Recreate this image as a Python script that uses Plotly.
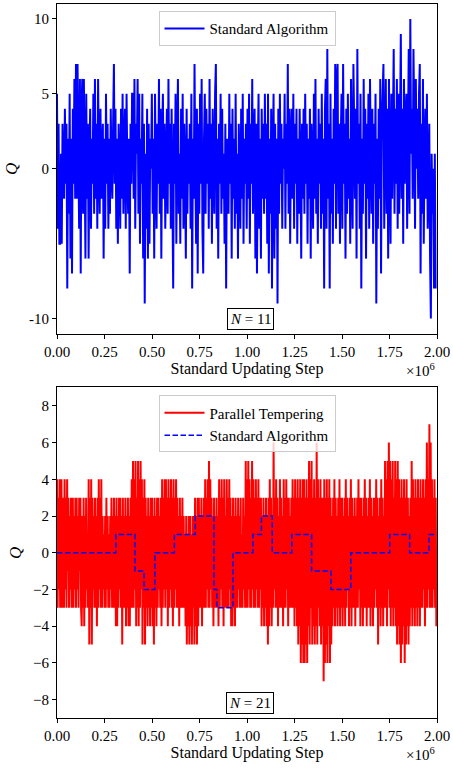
import plotly.graph_objects as go

# ---------------------------------------------------------------------------
# Topological charge Q versus Monte Carlo time
# ---------------------------------------------------------------------------

# N = 11, standard algorithm: one measurement every SA11_STRIDE updating steps
SA11_STRIDE = 4160
q11_standard = [
    5, -4, 3, -5, -5, 1, -5, 3, 0, -2, 4, -1, 3, -8, 2, -3, 5, -6, 2, -7, 4, -1, 6, -2,
    7, -2, 7, 1, -4, 6, -7, 4, 6, -3, 6, 0, -6, 5, -2, 3, -6, 1, 4, -4, 2, -1, 5, -3,
    6, -2, 3, -4, 6, 0, -3, 4, -2, 1, 3, -6, 2, -4, 5, -1, 3, -4, 2, -3, 4, 0, -2, 3,
    7, -1, 4, -4, 2, -5, 3, 0, -4, 4, -2, 5, -3, 1, 4, -4, 5, 0, -3, 2, -7, 3, -1, 5,
    5, -2, 6, -4, 3, 1, 6, -3, 5, -5, 2, -1, 5, -6, 3, -9, 1, -4, 4, -6, 3, -5, 2, 0,
    5, -3, 2, -6, 5, 0, -4, 3, -1, 6, -3, 4, -6, 2, 5, -2, 3, -4, 0, 4, -3, 6, -1, 3,
    -4, 4, -2, -8, 3, -1, 5, -5, 2, 6, -3, 1, -5, 4, -2, 5, -4, 3, 0, -6, 4, -3, 2, -1,
    3, -4, 5, -8, 2, -2, 7, 0, -5, 4, -7, 3, -3, 5, -1, 6, -4, -7, 2, 5, -3, 4, -1, 3,
    -4, 6, -2, 3, -5, 4, 0, -3, 5, 7, -4, 2, -6, 3, -1, 5, -3, 4, -2, 1, -5, 3, -8, 2,
    0, -3, 5, -1, 3, -6, 4, -2, 2, -4, 5, -3, 1, -6, 3, 0, -4, 4, -2, 5, -5, 2, -1, 3,
    -4, 4, -2, 5, -5, 3, -1, 6, -3, 2, 4, -6, 3, -7, 1, 5, -4, 2, -6, 4, -2, 3, -3, 5,
    -2, 3, -5, 5, -7, 2, -3, 4, -8, 1, 5, -6, 3, -4, 2, -9, 4, -3, 5, -1, 3, -4, 2, 0,
    5, -4, 3, -1, 7, -3, 4, -5, 2, 4, -2, 5, -4, 3, -1, 4, -5, 2, -3, 4, 0, -6, 3, -2,
    4, -3, 5, -1, 3, -5, 2, -2, 4, -6, 3, 0, -4, 5, -2, 6, -3, 2, -5, 4, -1, 3, -4, 5,
    -3, 2, -8, 4, 6, -4, 8, -2, 3, -8, 5, -3, 2, -5, 4, -1, 7, -4, 6, 7, -3, 3, -5, 2,
    5, -4, 7, -1, 3, -6, 4, -3, 5, -2, 2, -5, 6, 0, -4, 7, 3, -2, 4, -6, 8, -1, 3, -4,
    5, -8, 2, -3, 6, -1, 4, -6, 3, -2, 5, -4, 6, 1, -3, 4, -5, 3, -1, 5, -9, 2, -4, 4,
    -2, 6, -7, 3, 5, 7, -4, 2, 6, -3, 4, -6, 6, 0, -5, 5, -2, 3, 8, -3, 4, -1, 6, -4,
    5, -3, 3, 9, -2, 4, -5, 6, -1, 3, 5, -4, 2, 8, -3, 10, 1, 4, -2, 8, 3, -4, 6, 0,
    4, -2, 5, 7, -7, 3, -3, 6, -5, 1, 4, -2, 5, -4, -1, 3, -6, -10, 1, -3, 0, -8, 1, -8,
]

# N = 21, parallel tempering: one measurement every PT21_STRIDE updating steps
PT21_STRIDE = 10000 / 3
q21_tempering = [
    4, -3, 3, -2, 4, -3, 2, 4, -3, 1, 3, -3, 4, -2, 3, -3, 4, -1, 3, -3, 2, -2, 3, -3, 1, 3, -3, 2, -2, 3,
    -3, 3, -2, 2, -3, 3, -1, 3, -3, -4, 2, -3, 3, -4, 2, -3, 3, -2, 1, -3, 4, -5, 3, -3, 4, -5, 3, -2, 2, -3,
    3, -3, 2, -4, 3, -3, 4, -2, 3, -3, 4, -3, 2, -2, 1, -3, 2, -3, 3, -2, 2, -3, 1, -3, 2, -2, 3, -3, 2, -3,
    3, -3, 2, -4, 3, -4, 2, -3, 3, -2, 3, -3, 2, -5, 3, -3, 2, -3, 3, -4, 2, -3, 3, -4, 2, -4, 3, -3, 4, -3,
    5, -3, 4, -2, 5, -4, 3, -3, 5, -4, 4, -3, 5, -2, 4, -5, 3, -3, 4, -5, 3, -3, 2, -4, 3, -3, 2, -4, 3, -3,
    3, -4, 2, -5, 3, -3, 2, -4, 3, -3, 3, -2, 2, -3, 3, -4, 4, -3, 3, -2, 4, -3, 4, -2, 3, -4, 4, -3, 3, -2,
    4, -3, 3, -4, 4, -3, 3, -2, 4, -3, 3, -3, 2, -4, 3, -3, 2, -3, 3, -3, 2, -3, 1, -4, 2, -5, 1, -4, 2, -5,
    2, -4, 1, -5, 2, -3, 2, -5, 3, -4, 2, -5, 3, -4, 3, -3, 2, -3, 3, -4, 2, -3, 3, -3, 4, -3, 3, -2, 4, -3,
    5, -3, 4, -2, 3, -3, 2, -4, 3, -3, 2, -3, 3, -3, 2, -4, 4, -3, 3, -2, 4, -3, 3, -4, 4, -3, 2, -3, 4, -3,
    3, -3, 4, -2, 3, -4, 2, -4, 3, -3, 2, -4, 3, -3, 2, -3, 3, -2, 2, -3, 3, -3, 1, -3, 3, -2, 2, -3, 5, -3,
    4, -3, 5, -2, 4, -3, 3, -3, 5, -2, 4, -3, 3, -3, 4, -2, 3, -3, 4, -3, 3, -2, 3, -4, 2, -3, 3, -4, 2, -3,
    3, -4, 2, -5, 3, -4, 4, -3, 3, -4, 2, -3, 6, -2, 3, -3, 4, -3, 3, -4, 2, -3, 4, -3, 3, -3, 2, -4, 4, -3,
    3, -3, 4, -2, 3, -4, 3, -3, 2, -3, 3, -3, 4, -3, 3, -4, 4, -3, 3, -4, 4, -5, 3, -4, 4, -6, 3, -5, 4, -6,
    4, -6, 3, -5, 4, -6, 3, -4, 5, -5, 4, -3, 5, -5, 3, -4, 4, -5, 3, -4, 6, -5, 4, -3, 3, -4, 4, -5, 3, -4,
    3, -7, 4, -6, 3, -5, 4, -6, 3, -4, 4, -6, 3, -5, 2, -4, 3, -3, 4, -4, 3, -3, 2, -4, 3, -3, 4, -4, 3, -3,
    3, -4, 2, -3, 3, -4, 4, -3, 3, -2, 2, -4, 3, -3, 4, -4, 3, -3, 2, -3, 3, -4, 2, -3, 3, -3, 4, -2, 3, -4,
    3, -3, 2, -4, 3, -3, 4, -3, 3, -4, 2, -3, 3, -3, 4, -4, 3, -3, 2, -4, 3, -3, 3, -2, 4, -3, 3, -5, 2, -3,
    3, -4, 4, -3, 3, -4, 2, -3, 5, -3, 4, -4, 5, -2, 6, -3, 5, -4, 4, -3, 5, -4, 3, -3, 5, -4, 4, -5, 5, -4,
    4, -5, 3, -6, 4, -5, 3, -4, 4, -6, 3, -5, 4, -4, 3, -5, 2, -4, 3, -3, 5, -4, 4, -3, 3, -4, 4, -3, 3, -4,
    4, -3, 3, -4, 4, -3, 3, -3, 4, -2, 3, -4, 4, -3, 6, -3, 4, -2, 7, -3, 6, -3, 4, -3, 3, -2, 4, -3, 3, -4,
]

# N = 21, standard algorithm: Q changes rarely, stored as (step, new value)
sa21_steps = [0, 310000, 411000, 458000, 515000, 618000, 728000, 826000, 841000,
              926000, 1031000, 1076000, 1133000, 1236000, 1340000, 1442000,
              1546000, 1751000, 1856000, 1958000, 1998000]
q21_standard = [0, 1, -1, -2, 0, 1, 2, -2, -3, 0, 1, 2, 0, 1, -1, -2, 0, 1, 0, 1, 1]

x_tick_vals = [0, 250000, 500000, 750000, 1000000, 1250000, 1500000, 1750000, 2000000]
x_tick_text = ["0.00", "0.25", "0.50", "0.75", "1.00", "1.25", "1.50", "1.75", "2.00"]
y1_tick_vals = [-10, 0, 5, 10]
y1_tick_text = ["-10", "0", "5", "10"]
y2_tick_vals = [-8, -6, -4, -2, 0, 2, 4, 6, 8]

steps11 = [i * SA11_STRIDE for i in range(len(q11_standard))]
steps21 = [i * PT21_STRIDE for i in range(len(q21_tempering))]

FONT = "Liberation Serif"

fig = go.Figure()
fig.add_trace(go.Scatter(
    x=steps11, y=q11_standard, mode="lines", name="Standard Algorithm",
    line=dict(color="#0000ff", width=2, simplify=False),
    xaxis="x", yaxis="y", legend="legend",
))
fig.add_trace(go.Scatter(
    x=steps21, y=q21_tempering, mode="lines", name="Parallel Tempering",
    line=dict(color="#ff0000", width=2, simplify=False),
    xaxis="x2", yaxis="y2", legend="legend2",
))
fig.add_trace(go.Scatter(
    x=sa21_steps, y=q21_standard, mode="lines", name="Standard Algorithm",
    line=dict(color="#0000ff", width=1.5, dash="5.5px,2.5px", shape="hv"),
    xaxis="x2", yaxis="y2", legend="legend2",
))

axis_style = dict(
    showline=True, linecolor="black", linewidth=1, mirror=True,
    ticks="outside", ticklen=4, tickwidth=1, tickcolor="black",
    showgrid=False, zeroline=False, ticklabeloverflow="allow",
    tickfont=dict(family=FONT, size=15, color="black"),
)
x_style = dict(axis_style, range=[0, 2000000], tickmode="array",
               tickvals=x_tick_vals, ticktext=x_tick_text,
               title=dict(text="Standard Updating Step",
                          font=dict(family=FONT, size=16, color="black"),
                          standoff=2))
y_title = dict(text="<i>Q</i>", font=dict(family=FONT, size=17, color="black"),
               standoff=7)

TOP = [0.5385, 1.0]
BOTTOM = [0.0, 0.4629]

legend_style = dict(
    x=0.5, xanchor="center", yanchor="top",
    bgcolor="rgba(255,255,255,0.8)", bordercolor="#cccccc", borderwidth=1,
    font=dict(family=FONT, size=15, color="black"),
    itemwidth=40, tracegroupgap=0,
)

fig.update_layout(
    width=453, height=768,
    margin=dict(l=57, r=13, t=3, b=50),
    paper_bgcolor="white", plot_bgcolor="white",
    font=dict(family=FONT, size=15, color="black"),
    xaxis=dict(x_style, domain=[0, 1], anchor="y"),
    yaxis=dict(axis_style, domain=TOP, anchor="x", range=[-11, 11],
               tickmode="array", tickvals=y1_tick_vals, ticktext=y1_tick_text,
               title=y_title),
    xaxis2=dict(x_style, domain=[0, 1], anchor="y2"),
    yaxis2=dict(axis_style, domain=BOTTOM, anchor="x2", range=[-9, 9],
                tickmode="array", tickvals=y2_tick_vals, title=y_title),
    legend=dict(legend_style, y=0.99),
    legend2=dict(legend_style, y=0.4517),
    showlegend=True,
)

# Annotations: lattice size boxes and the axis offset text
for xa, ya, label in [("x", "y", "<i>N</i> = 11"), ("x2", "y2", "<i>N</i> = 21")]:
    fig.add_annotation(
        text=label, xref=f"{xa} domain", yref=f"{ya} domain",
        x=0.509, y=0.045, xanchor="center", yanchor="middle", showarrow=False,
        bordercolor="black", borderwidth=1, borderpad=2, bgcolor="white",
        font=dict(family=FONT, size=15, color="black"),
    )
    fig.add_annotation(
        text="×10<sup>6</sup>", xref=f"{xa} domain", yref=f"{ya} domain",
        x=1.0, y=0, xanchor="right", yanchor="middle", yshift=-36,
        showarrow=False, font=dict(family=FONT, size=15, color="black"),
    )

fig.write_html("out.html")
